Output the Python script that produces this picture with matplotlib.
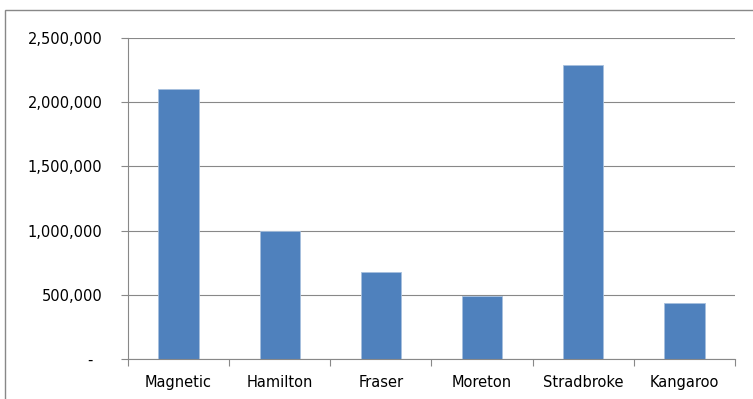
import matplotlib.pyplot as plt
from matplotlib.patches import Rectangle
from matplotlib.ticker import FixedLocator, FuncFormatter

islands = ["Magnetic", "Hamilton", "Fraser", "Moreton", "Stradbroke", "Kangaroo"]
visitors = [2100000, 1000000, 675000, 495000, 2290000, 440000]
y_ticks = [0, 500000, 1000000, 1500000, 2000000, 2500000]

grey = "#888888"

fig = plt.figure(figsize=(7.53, 3.99), dpi=100)
fig.patch.set_facecolor("white")

# chart frame (left and top edges only show)
fig.patches.append(Rectangle((4.5 / 753, -0.1), 1.2, (399 - 9.5) / 399 + 0.1,
                             transform=fig.transFigure, fill=False,
                             edgecolor=grey, linewidth=1.0))

ax = fig.add_axes([128 / 753, (399 - 359.3) / 399, (735 - 128) / 753, (359.3 - 37.7) / 399])

x = list(range(len(islands)))
ax.bar(x, visitors, width=0.4, color="#4F81BD", edgecolor="#A7C0DE", linewidth=0.6, zorder=3)

ax.set_xlim(-0.5, len(islands) - 0.5)
ax.set_ylim(0, 2500000)

ax.yaxis.set_major_locator(FixedLocator(y_ticks))
ax.yaxis.set_major_formatter(FuncFormatter(lambda v, p: "-  " if v == 0 else f"{int(v):,}"))
ax.grid(axis="y", color=grey, linewidth=0.8, zorder=0)

ax.set_xticks(x)
ax.set_xticklabels(islands)
ax.set_xticks([i - 0.5 for i in range(len(islands) + 1)], minor=True)
ax.tick_params(axis="x", which="major", length=0, pad=11, labelsize=10.5, colors="black")
ax.tick_params(axis="x", which="minor", length=5, width=0.8, color=grey, direction="out")
ax.tick_params(axis="y", length=5, width=0.8, color=grey, direction="out", pad=13.5,
               labelsize=10.5, labelcolor="black")

for side in ["top", "right"]:
    ax.spines[side].set_visible(False)
for side in ["left", "bottom"]:
    ax.spines[side].set_color(grey)
    ax.spines[side].set_linewidth(0.8)
    ax.spines[side].set_zorder(4)

fig.savefig("out.png", dpi=100)
